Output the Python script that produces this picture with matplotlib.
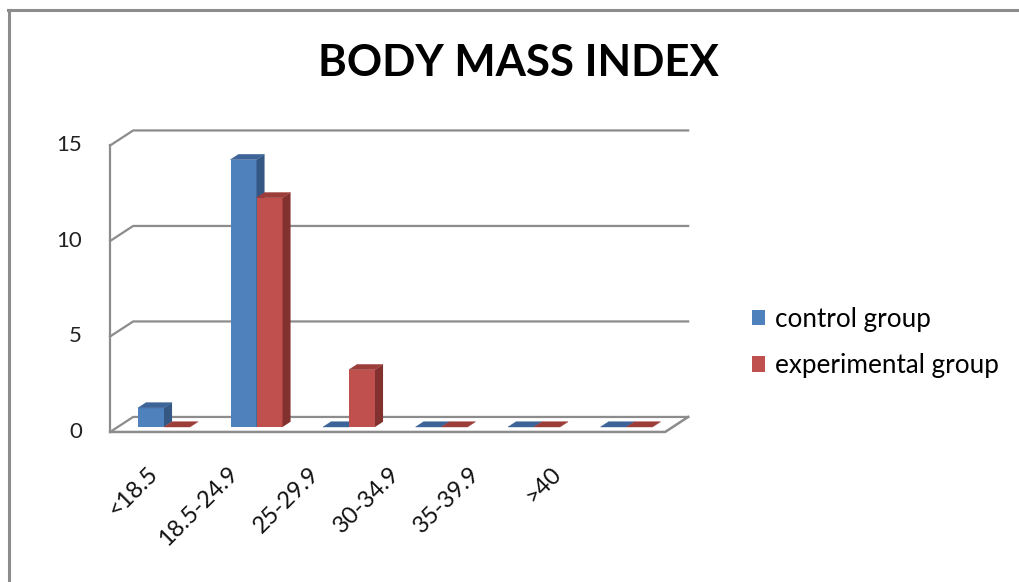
import matplotlib
matplotlib.use("Agg")
import matplotlib.pyplot as plt
from matplotlib.patches import Polygon

plt.rcParams['font.family'] = ['Lato', 'DejaVu Sans']

categories = ['<18.5', '18.5-24.9', '25-29.9', '30-34.9', '35-39.9', '>40']
control = [1, 14, 0, 0, 0, 0]
experimental = [0, 12, 3, 0, 0, 0]
yticks = [0, 5, 10, 15]

# pixel layout of the fake 3d box
W, H = 1019, 582
X0, Y0 = 164, 427          # bar plane origin (category 0 centre, value 0)
PX_CAT, PX_UNIT = 92.5, 19.1
DX, DY = 23 / PX_CAT, 15 / PX_UNIT   # full wall depth in data units
D_FRONT, D_BACK = -0.33, 0.67
BAR_DEPTH = 0.35
BAR_W = 26 / PX_CAT

grid_col = '#8c8c8c'
blue = ['#4f81bd', '#3c6499', '#345784']   # front, top, side
red = ['#c0504d', '#9c3d3a', '#82312f']


def P(x, v, d):
    return (x + d * DX, v + d * DY)


fig = plt.figure(figsize=(W / 100, H / 100), dpi=100)
ax = fig.add_axes([0, 0, 1, 1])
ax.set_xlim(-X0 / PX_CAT, (W - X0) / PX_CAT)
ax.set_ylim((Y0 - H) / PX_UNIT, Y0 / PX_UNIT)
ax.axis('off')

# outer chart border (only left and top visible)
fig.add_artist(plt.Line2D([8.5 / W, 8.5 / W], [0, 1 - 9.5 / H], color=grid_col, lw=2.2))
fig.add_artist(plt.Line2D([7.5 / W, 1], [1 - 9.5 / H, 1 - 9.5 / H], color=grid_col, lw=2.2))

# walls, gridlines and floor
left, right = -0.5, len(categories) - 0.5
ax.plot(*zip(P(left, 0, D_FRONT), P(left, yticks[-1], D_FRONT)), color=grid_col, lw=1.6)
for g in yticks:
    pts = [P(left, g, D_FRONT), P(left, g, D_BACK), P(right, g, D_BACK)]
    ax.plot(*zip(*pts), color=grid_col, lw=1.6)
floor = [P(left, 0, D_FRONT), P(right, 0, D_FRONT), P(right, 0, D_BACK)]
ax.plot(*zip(*floor), color=grid_col, lw=1.8)

# bars: front faces via ax.bar, top and side as polygons
xs = list(range(len(categories)))
bx = [x - BAR_W for x in xs]
rx = xs
ddx, ddy = BAR_DEPTH * DX, BAR_DEPTH * DY
b1 = ax.bar(bx, control, width=BAR_W, align='edge', color=blue[0], label='control group', zorder=3)
b2 = ax.bar(rx, experimental, width=BAR_W, align='edge', color=red[0], label='experimental group', zorder=3)
z = 3
for i in xs:
    for x, h, col in ((bx[i], control[i], blue), (rx[i], experimental[i], red)):
        top = [(x, h), (x + BAR_W, h), (x + BAR_W + ddx, h + ddy), (x + ddx, h + ddy)]
        side = [(x + BAR_W, 0), (x + BAR_W + ddx, ddy), (x + BAR_W + ddx, h + ddy), (x + BAR_W, h)]
        z += 0.01
        if h > 0:
            ax.add_patch(Polygon(side, closed=True, color=col[2], lw=0, zorder=z))
        ax.add_patch(Polygon(top, closed=True, color=col[1], lw=0.3, zorder=z))
        if h > 0:
            # redraw the front face above the previous bar's side
            ax.add_patch(Polygon([(x, 0), (x + BAR_W, 0), (x + BAR_W, h), (x, h)],
                                 closed=True, color=col[0], lw=0, zorder=z - 0.005))

# y tick labels
for g in yticks:
    ax.text((82 - X0) / PX_CAT, P(left, g, D_FRONT)[1], str(g), ha='right', va='center',
            fontsize=16, color='#222222')

# x tick labels (Excel squeezes them towards the left)
LAB0, LAB_STEP = -17 / PX_CAT, 80.6 / PX_CAT
for i, c in enumerate(categories):
    ax.text(LAB0 + i * LAB_STEP, (Y0 - 463) / PX_UNIT, c, rotation=45, rotation_mode='anchor',
            ha='right', va='top', fontsize=17, color='#111111')

fig.text(518 / W, 1 - 63 / H, 'BODY MASS INDEX', ha='center', va='center',
         fontsize=31.5, fontweight='bold', color='black')

ax.legend(handles=[b1, b2], loc='upper left', bbox_to_anchor=(728 / W, 1 - 283 / H),
          bbox_transform=fig.transFigure, frameon=False, fontsize=18.8,
          handlelength=0.52, handleheight=0.52, handletextpad=0.38, labelspacing=0.83)

fig.savefig('out.png', dpi=100, facecolor='white')
